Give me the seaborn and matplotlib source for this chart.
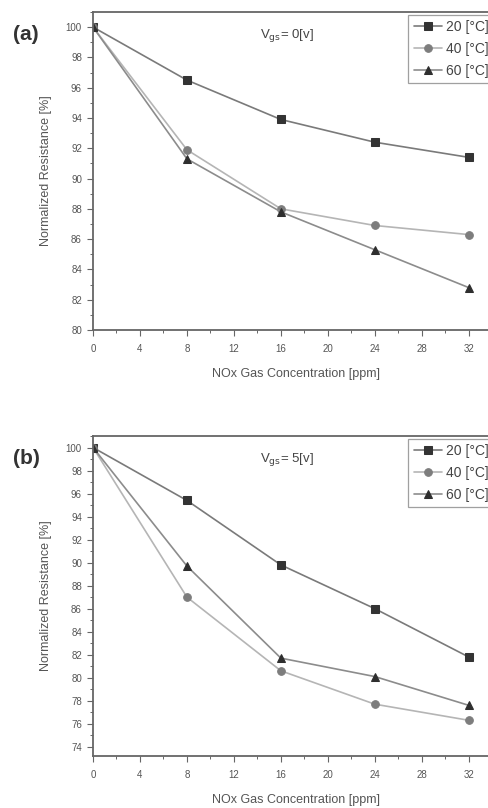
import pandas as pd
import matplotlib
matplotlib.use("Agg")
import matplotlib.pyplot as plt
import seaborn as sns
from matplotlib.ticker import MultipleLocator

# data
conc = [0, 8, 16, 24, 32]
temps = ["20 [°C]", "40 [°C]", "60 [°C]"]

res_a_20 = [100, 96.5, 93.9, 92.4, 91.4]
res_a_40 = [100, 91.9, 88.0, 86.9, 86.3]
res_a_60 = [100, 91.3, 87.8, 85.3, 82.8]

res_b_20 = [100, 95.4, 89.8, 86.0, 81.8]
res_b_40 = [100, 87.0, 80.6, 77.7, 76.3]
res_b_60 = [100, 89.7, 81.7, 80.1, 77.6]

sns.set_style("ticks")
plt.rcParams["font.family"] = ["Liberation Sans", "DejaVu Sans"]

line_cols = ["#7a7a7a", "#b5b5b5", "#8c8c8c"]
mark_cols = ["#333333", "#7d7d7d", "#2e2e2e"]
markers = ["s", "o", "^"]

fig = plt.figure(figsize=(4.88, 8.08), dpi=100)
ax_a = fig.add_axes([0.1906, 0.5916, 0.83, 0.3936])
ax_b = fig.add_axes([0.1906, 0.0644, 0.83, 0.396])

panels = [
    (ax_a, [res_a_20, res_a_40, res_a_60], (80, 101), r"V$_{\rm gs}$= 0[v]", "(a)"),
    (ax_b, [res_b_20, res_b_40, res_b_60], (73.2, 101), r"V$_{\rm gs}$= 5[v]", "(b)"),
]

for ax, series, ylim, vlabel, tag in panels:
    for i, vals in enumerate(series):
        df = pd.DataFrame({"conc": conc, "res": vals})
        sns.lineplot(data=df, x="conc", y="res", ax=ax, color=line_cols[i],
                     marker=markers[i], markersize=5.5, markerfacecolor=mark_cols[i],
                     markeredgecolor=mark_cols[i], linewidth=1.2, label=temps[i])
    ax.set_xlim(0, 34.5)
    ax.set_ylim(*ylim)
    ax.xaxis.set_major_locator(MultipleLocator(4))
    ax.xaxis.set_minor_locator(MultipleLocator(2))
    ax.yaxis.set_major_locator(MultipleLocator(2))
    ax.yaxis.set_minor_locator(MultipleLocator(1))
    ax.tick_params(which="major", length=4, width=0.8, colors="#666666", labelsize=7,
                   labelcolor="#555555", pad=4)
    ax.tick_params(axis="x", which="major", pad=6)
    ax.tick_params(which="minor", length=2, width=0.7, colors="#666666")
    for sp in ax.spines.values():
        sp.set_color("#666666")
        sp.set_linewidth(1.3)
    ax.set_xlabel("NOx Gas Concentration [ppm]", fontsize=9, color="#555555", labelpad=10)
    ax.set_ylabel("Normalized Resistance [%]", fontsize=9, color="#555555", labelpad=10)
    ax.text(0.48, 0.925, vlabel, transform=ax.transAxes, fontsize=9.5, color="#444444",
            ha="center", va="center")
    ax.text(-0.165, 0.93, tag, transform=ax.transAxes, fontsize=15, fontweight="bold",
            color="#333333", ha="center", va="center")
    leg = ax.legend(loc="upper left", bbox_to_anchor=(0.772, 1.0), fontsize=10,
                    frameon=True, fancybox=False, handlelength=2.0, handletextpad=0.3,
                    borderpad=0.4, labelspacing=0.55, labelcolor="#444444",
                    borderaxespad=0.2)
    leg.get_frame().set_edgecolor("#888888")
    leg.get_frame().set_linewidth(0.9)

fig.savefig("out.png", dpi=100)
